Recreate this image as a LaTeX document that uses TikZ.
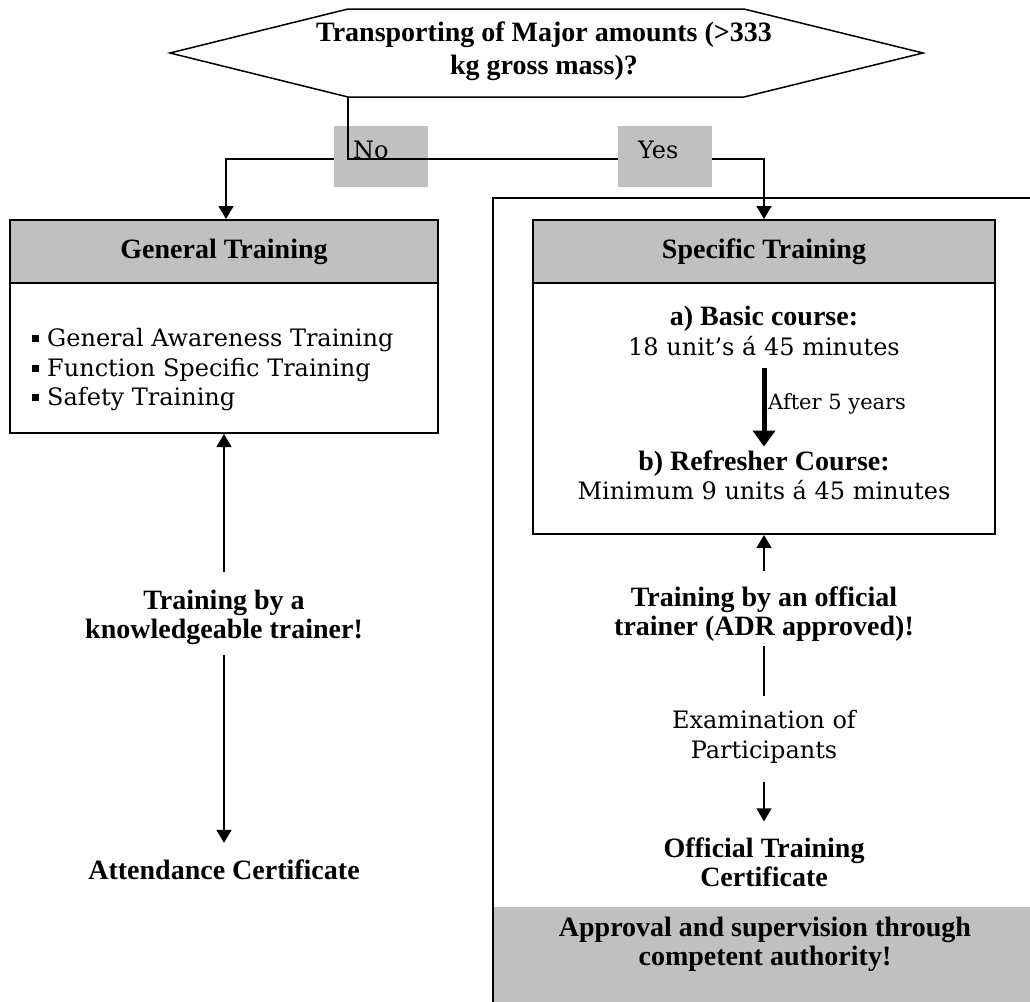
\documentclass[tikz,border=0pt]{standalone}
\usepackage{fontspec}
\setmainfont{DejaVu Serif}
\newfontfamily\bfam{Liberation Serif}
\usetikzlibrary{arrows.meta}
\definecolor{hdrgray}{RGB}{192,192,192}
\newcommand\regf{\fontsize{24}{29.5}\selectfont}
\newcommand\bldf{\bfam\bfseries\fontsize{28}{29}\selectfont}
\newcommand\bul{\rule[4.5pt]{7pt}{7pt}\hspace{8pt}}
\begin{document}
\begin{tikzpicture}[x=1pt,y=-1pt,
  box/.style={draw, line width=2pt, inner sep=0pt},
  hdr/.style={box, fill=hdrgray, font=\bldf, minimum height=63},
  conn/.style={line width=1.5pt},
  arr/.style={conn, -{Triangle[width=15pt,length=13pt]}},
  thickarr/.style={line width=5pt, -{Triangle[width=22pt,length=16pt]}},
  graybox/.style={fill=hdrgray, minimum width=94, minimum height=61, inner sep=0pt},
  txt/.style={align=center, inner sep=0pt}]
\useasboundingbox (0,0) rectangle (1030,1001);
\clip (0,0) rectangle (1030,1001);

% decision hexagon
\coordinate (qbl) at (348,97);
\draw[line width=1.5pt] (170,53) -- (348,9) -- (744,9) -- (923,53) -- (744,97) -- (qbl) -- cycle;
\node[txt, font=\bfam\bfseries\fontsize{28}{33}\selectfont] (q) at (544,51)
  {Transporting of Major amounts (>333\\kg gross mass)?};

% outer frame and authority band
\fill[hdrgray] (493,907) rectangle (1040,1010);
\draw[line width=2pt] (1040,198) -- (493,198) -- (493,1010);
\node[txt, font=\bldf] (appr) at (765,944.5) {Approval and supervision through\\competent authority!};

% general training
\node[hdr, minimum width=428] (gen) at (224,251.5) {General Training};
\node[box, minimum width=428, minimum height=150] (genb) at (224,358) {};
\node[anchor=west, align=left, inner sep=0pt, font=\regf] (genl) at (32,370)
  {\bul General Awareness Training\\\bul Function Specific Training\\\bul Safety Training};

% specific training
\node[hdr, minimum width=462] (spec) at (764,251.5) {Specific Training};
\node[box, minimum width=462, minimum height=251] (specb) at (764,408.5) {};
\node[txt, font=\regf] (basic) at (764,331) {{\bldf a) Basic course:}\\18 unit’s á 45 minutes};
\node[txt, font=\regf] (refr) at (764,475.5) {{\bldf b) Refresher Course:}\\Minimum 9 units á 45 minutes};
\draw[thickarr, shorten <=12pt, shorten >=4pt] (basic) -- (refr);
\node[anchor=west, inner sep=0pt, font=\fontsize{21}{25}\selectfont] (a5) at (768,404) {After 5 years};

% branch connectors
\coordinate (junc) at (348,159);
\draw[arr] (junc) -- (226,159) -- (gen.north -| 226,0);
\node[graybox] (nobox) at (381,156.5) {};
\node[anchor=base west, inner sep=0pt, font=\regf] (no) at (353,158) {No};
\draw[conn] (qbl) -- (junc) -- (640,159);
\draw[arr] (640,159) -| (spec.north);
\node[graybox] (yesbox) at (664.5,156.5) {};
\node[anchor=base west, inner sep=0pt, font=\regf] (yes) at (638,158) {Yes};

% left column
\node[txt, font=\bldf] (tka) at (224,617.5) {Training by a\\knowledgeable trainer!};
\node[txt, font=\bldf] (att) at (224,870) {Attendance Certificate};
\draw[arr, shorten <=18pt] (tka) -- (genb);
\draw[arr, shorten <=10pt, shorten >=17pt] (tka) -- (att);

% right column
\node[txt, font=\bldf] (tbo) at (764,614.5) {Training by an official\\trainer (ADR approved)!};
\node[txt, font=\regf] (exam) at (764,737) {Examination of\\Participants};
\node[txt, font=\bldf] (otc) at (764,862) {Official Training\\Certificate};
\draw[arr, shorten <=16pt] (tbo) -- (specb);
\draw[conn, shorten <=4pt, shorten >=14pt] (tbo) -- (exam);
\draw[arr, shorten <=18pt, shorten >=16pt] (exam) -- (otc);
\end{tikzpicture}
\end{document}
